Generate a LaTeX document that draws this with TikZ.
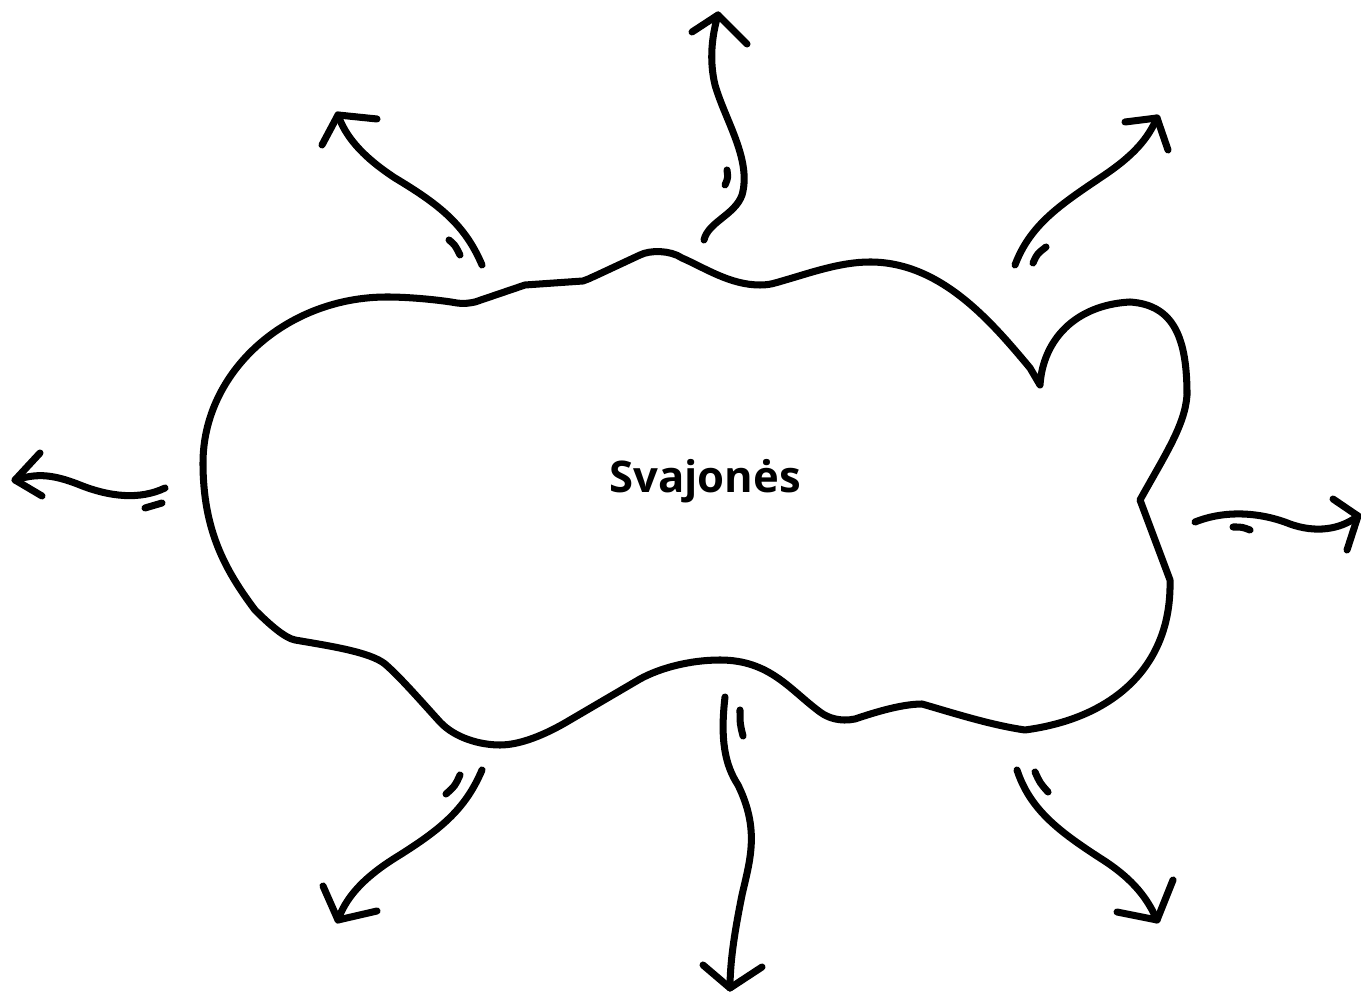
\documentclass[tikz,border=0pt]{standalone}
\usepackage{fontspec}
\setmainfont{Open Sans}
\usetikzlibrary{positioning,calc}
\tikzset{
	ink/.style={draw=black,line width=2pt,line cap=round,line join=round},
	shaft/.style={ink},
	head/.style={ink},
	tick/.style={ink},
	dreamtext/.style={font=\bfseries\fontsize{12.4}{15}\selectfont,inner sep=0pt},
}

\begin{document}
\begin{tikzpicture}[x=0.01cm,y=-0.01cm]
	\useasboundingbox (0,0) rectangle (1361,992);
	% cloud
	\draw[ink] (203,463) .. controls (203,372) and (286,297) .. (387,297)
		.. controls (410,297) and (440,300) .. (457,303)
		.. controls (465,304) and (470,303) .. (475,302)
		-- (525,285) -- (583,281)
		.. controls (587,280) and (590,278) .. (595,276)
		-- (640,255)
		.. controls (650,250) and (670,250) .. (682,258)
		.. controls (705,268) and (730,285) .. (760,285)
		.. controls (770,285) and (775,283) .. (782,281)
		.. controls (810,273) and (840,262) .. (870,262)
		.. controls (940,262) and (990,320) .. (1030,368)
		-- (1040,385)
		.. controls (1043,340) and (1075,305) .. (1130,302)
		.. controls (1175,305) and (1187,340) .. (1187,395)
		.. controls (1185,425) and (1165,455) .. (1140,500)
		-- (1170,580)
		.. controls (1172,665) and (1115,718) .. (1025,730)
		.. controls (990,725) and (950,712) .. (922,704)
		.. controls (900,704) and (870,714) .. (855,719)
		.. controls (840,722) and (828,718) .. (820,712)
		.. controls (790,690) and (770,660) .. (720,660)
		.. controls (690,660) and (660,668) .. (640,679)
		-- (570,720)
		.. controls (545,735) and (520,745) .. (500,745)
		.. controls (480,745) and (455,738) .. (440,722)
		.. controls (420,700) and (400,677) .. (385,664)
		.. controls (370,652) and (330,646) .. (295,640)
		.. controls (285,638) and (270,625) .. (255,610)
		.. controls (225,570) and (203,530) .. (203,463) -- cycle;
	\node[dreamtext] (dream) at (705,481) {Svajonės};

	% ends of the arrows
	\coordinate (lTail) at (165,488);   \coordinate (lTip) at (15,480);
	\coordinate (rTail) at (1195,522);  \coordinate (rTip) at (1358,516);
	\coordinate (tTail) at (704,240);   \coordinate (tTip) at (718,15);
	\coordinate (bTail) at (725,697);   \coordinate (bTip) at (730,988);
	\coordinate (tlTail) at (482,265);  \coordinate (tlTip) at (338,115);
	\coordinate (trTail) at (1015,265); \coordinate (trTip) at (1157,118);
	\coordinate (blTail) at (482,770);  \coordinate (blTip) at (338,920);
	\coordinate (brTail) at (1017,770); \coordinate (brTip) at (1157,920);

	% left
	\draw[shaft] (lTail) .. controls (140,500) and (110,497) .. (80,485)
		.. controls (50,473) and (35,474) .. (lTip);
	\draw[head] (lTip) ++(25,-27) -- (lTip) -- ++(27,16);
	\draw[tick] (145,508) .. controls (153,506) .. (162,503);
	% right
	\draw[shaft] (rTail) .. controls (1225,510) and (1260,512) .. (1290,524)
		.. controls (1315,533) and (1340,530) .. (rTip);
	\draw[head] (rTip) ++(-25,-17) -- (rTip) -- ++(-11,34);
	\draw[tick] (1233,527) .. controls (1242,527) .. (1250,530);
	% top
	\draw[shaft] (tTail) .. controls (708,222) and (735,215) .. (742,195)
		.. controls (752,160) and (725,120) .. (715,85)
		.. controls (709,60) and (712,35) .. (tTip);
	\draw[head] (tTip) ++(-26,17) -- (tTip) -- ++(29,29);
	\draw[tick] (727,170) .. controls (728,178) .. (725,185);
	% bottom
	\draw[shaft] (bTail) .. controls (720,740) and (725,765) .. (738,785)
		.. controls (760,830) and (750,860) .. (742,895)
		.. controls (735,930) and (730,960) .. (bTip);
	\draw[head] (bTip) ++(-27,-23) -- (bTip) -- ++(32,-21);
	\draw[tick] (740,710) .. controls (740,724) .. (743,736);
	% top left
	\draw[shaft] (tlTail) .. controls (465,225) and (440,205) .. (395,178)
		.. controls (360,155) and (345,135) .. (tlTip);
	\draw[head] (tlTip) ++(-16,30) -- (tlTip) -- ++(39,4);
	\draw[tick] (449,240) .. controls (455,245) .. (460,255);
	% top right
	\draw[shaft] (trTail) .. controls (1030,225) and (1060,205) .. (1100,178)
		.. controls (1135,155) and (1148,138) .. (trTip);
	\draw[head] (trTip) ++(-32,4) -- (trTip) -- ++(11,32);
	\draw[tick] (1033,263) .. controls (1037,254) .. (1046,247);
	% bottom left
	\draw[shaft] (blTail) .. controls (465,810) and (440,830) .. (395,858)
		.. controls (360,880) and (345,900) .. (blTip);
	\draw[head] (blTip) ++(-15,-34) -- (blTip) -- ++(39,-9);
	\draw[tick] (460,775) .. controls (455,786) .. (446,794);
	% bottom right
	\draw[shaft] (brTail) .. controls (1030,810) and (1060,832) .. (1100,858)
		.. controls (1135,880) and (1148,900) .. (brTip);
	\draw[head] (brTip) ++(16,-40) -- (brTip) -- ++(-40,-8);
	\draw[tick] (1035,772) .. controls (1040,783) .. (1048,792);
\end{tikzpicture}
\end{document}
